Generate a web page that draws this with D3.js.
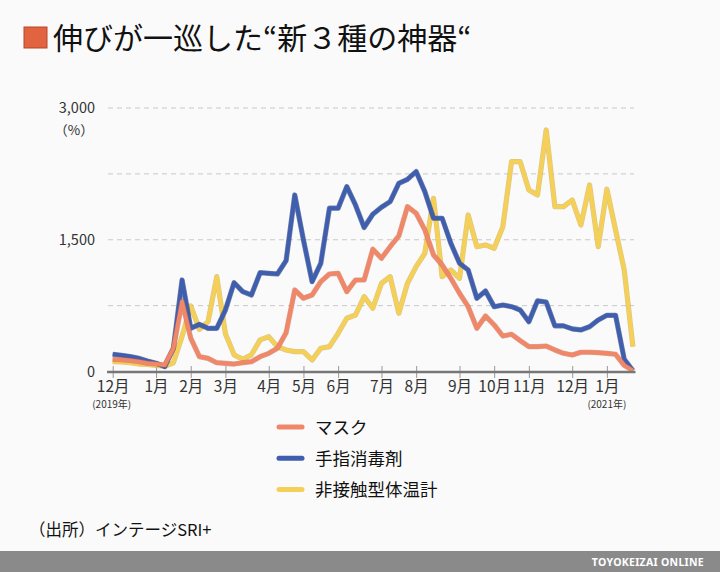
<!DOCTYPE html>
<html>
<head>
<meta charset="utf-8">
<script src="https://cdn.jsdelivr.net/npm/d3@7"></script>
<style>
  body { margin:0; background:#fafafa; }
  svg { display:block; font-family:"Noto Sans CJK JP","Noto Sans",sans-serif; }
</style>
</head>
<body>
<svg id="chart"></svg>
<script>
// weekly values, index 0 = first week of Dec 2019
var mask = [139,135,125,112,95,85,74,264,795,380,169,150,100,93,85,100,112,169,207,264,442,928,834,871,1023,1110,1118,909,1042,1042,1392,1289,1421,1543,1877,1802,1612,1327,1213,1061,891,738,492,632,530,404,424,351,283,283,290,245,207,188,219,219,214,207,196,70,10]
var sanitizer = [196,185,170,150,120,95,55,264,1042,492,537,492,492,700,1011,909,871,1125,1118,1110,1262,2010,1498,1023,1232,1859,1859,2105,1896,1640,1790,1870,1934,2143,2188,2276,2048,1745,1745,1460,1232,1156,834,917,738,757,738,700,567,805,790,520,520,485,473,510,587,640,640,140,10]
var thermometer = [112,110,100,85,80,70,60,100,400,746,481,568,1080,430,190,140,190,360,396,283,245,226,226,131,264,283,435,606,643,852,720,1004,1080,663,1004,1194,1346,1972,1080,1156,1061,1782,1421,1441,1403,1649,2389,2389,2067,2010,2750,1877,1877,1953,1668,2124,1421,2075,1612,1156,283]

var monthTicks = [0,5,9,13,18,22,26,31,35,40,44,48,53,57]
var monthLabels = ["12月","1月","2月","3月","4月","5月","6月","7月","8月","9月","10月","11月","12月","1月"]
var gridValues = [0,750,1500,2250,3000]
var yLabelValues = [0,1500,3000]

var seriesNames = ["マスク","手指消毒剤","非接触型体温計"]
var seriesColors = ["#ef8768","#3f5fae","#f5d058"]
var seriesEdges = ["#c9654a","#23397a","#c9a43a"]

var screen = {width:720,height:572}

var svg = d3.select("#chart")
  .attr("width",screen.width)
  .attr("height",screen.height)

svg.append("rect")
  .attr("width",screen.width)
  .attr("height",screen.height)
  .attr("fill","#fafafa")

var xScale = d3.scaleLinear()
  .domain([0,60])
  .range([112.7,632.9])

var yScale = d3.scaleLinear()
  .domain([0,3000])
  .range([371.5,108])

// title
svg.append("rect")
  .attr("x",24).attr("y",27)
  .attr("width",23).attr("height",21)
  .attr("fill","#e2633f")
  .attr("stroke","#b8452a").attr("stroke-width",1)

svg.append("text")
  .attr("x",53).attr("y",49)
  .attr("font-size",30)
  .attr("fill","#111")
  .text("伸びが一巡した“新３種の神器“")

// gridlines
svg.append("g")
  .selectAll("line")
  .data(gridValues.filter(function(d){return d>0}))
  .enter()
  .append("line")
  .attr("x1",108).attr("x2",634)
  .attr("y1",function(d){return yScale(d)})
  .attr("y2",function(d){return yScale(d)})
  .attr("stroke","#c8c8c8")
  .attr("stroke-dasharray","5,4")

// y labels
svg.append("g")
  .selectAll("text")
  .data(yLabelValues)
  .enter()
  .append("text")
  .attr("x",95)
  .attr("y",function(d){return yScale(d)+5})
  .attr("text-anchor","end")
  .attr("font-size",14.5)
  .attr("fill","#333")
  .text(function(d){return d3.format(",")(d)})

svg.append("text")
  .attr("x",74).attr("y",135)
  .attr("text-anchor","middle")
  .attr("font-size",13.5)
  .attr("fill","#333")
  .text("（%）")

// x axis
var xAxis = d3.axisBottom(xScale)
  .tickValues(monthTicks)
  .tickFormat(function(d,i){return monthLabels[i]})
  .tickSize(12)
  .tickPadding(6)

var axisG = svg.append("g")
  .attr("transform","translate(0,366)")
  .call(xAxis)
axisG.select(".domain").remove()
axisG.selectAll(".tick line").attr("stroke","#999")
axisG.selectAll(".tick text")
  .attr("font-family","\"Noto Sans CJK JP\",sans-serif")
  .attr("font-size",15.5)
  .attr("fill","#333")
  .attr("y",15)
  .attr("dy","0.71em")

svg.append("text")
  .attr("x",xScale(0)-1).attr("y",408)
  .attr("text-anchor","middle")
  .attr("font-size",10)
  .attr("fill","#333")
  .text("(2019年)")

svg.append("text")
  .attr("x",xScale(57)).attr("y",408)
  .attr("text-anchor","middle")
  .attr("font-size",10)
  .attr("fill","#333")
  .text("(2021年)")

// lines
var line = d3.line()
  .x(function(d,i){return xScale(i)})
  .y(function(d){return yScale(d)})
  .curve(d3.curveLinear)

var allSeries = [mask,sanitizer,thermometer]
var drawOrder = [2,1,0]

drawOrder.forEach(function(k)
{
  svg.append("path")
    .datum(allSeries[k])
    .attr("d",line)
    .attr("fill","none")
    .attr("stroke",seriesEdges[k])
    .attr("stroke-width",5.2)
    .attr("stroke-opacity",0.6)
    .attr("stroke-linejoin","round")
  svg.append("path")
    .datum(allSeries[k])
    .attr("d",line)
    .attr("fill","none")
    .attr("stroke",seriesColors[k])
    .attr("stroke-width",4)
    .attr("stroke-linejoin","round")
})

// baseline
svg.append("line")
  .attr("x1",xScale(-0.65)).attr("x2",xScale(60.3))
  .attr("y1",yScale(0)+0.5).attr("y2",yScale(0)+0.5)
  .attr("stroke","#777")
  .attr("stroke-width",2.5)

// legend
var legend = svg.append("g")
  .selectAll("g")
  .data(seriesNames)
  .enter()
  .append("g")
  .attr("transform",function(d,i){return "translate(277,"+(427+i*31.3)+")"})

legend.append("line")
  .attr("x1",2).attr("x2",25)
  .attr("stroke",function(d,i){return seriesColors[i]})
  .attr("stroke-width",5)
  .attr("stroke-linecap","round")

legend.append("text")
  .attr("x",38).attr("y",6.5)
  .attr("font-size",17.5)
  .attr("fill","#111")
  .text(function(d){return d})

// source
svg.append("text")
  .attr("x",29).attr("y",536)
  .attr("font-size",16.5)
  .attr("fill","#111")
  .text("（出所）インテージSRI+")

// footer
svg.append("rect")
  .attr("x",0).attr("y",551)
  .attr("width",screen.width).attr("height",21)
  .attr("fill","#8a8a8a")

svg.append("text")
  .attr("x",704).attr("y",566)
  .attr("text-anchor","end")
  .attr("font-size",10.5)
  .attr("font-weight","bold")
  .attr("letter-spacing",0.3)
  .attr("font-family","\"Noto Sans\",sans-serif")
  .attr("fill","#fff")
  .text("TOYOKEIZAI ONLINE")
</script>
</body>
</html>
